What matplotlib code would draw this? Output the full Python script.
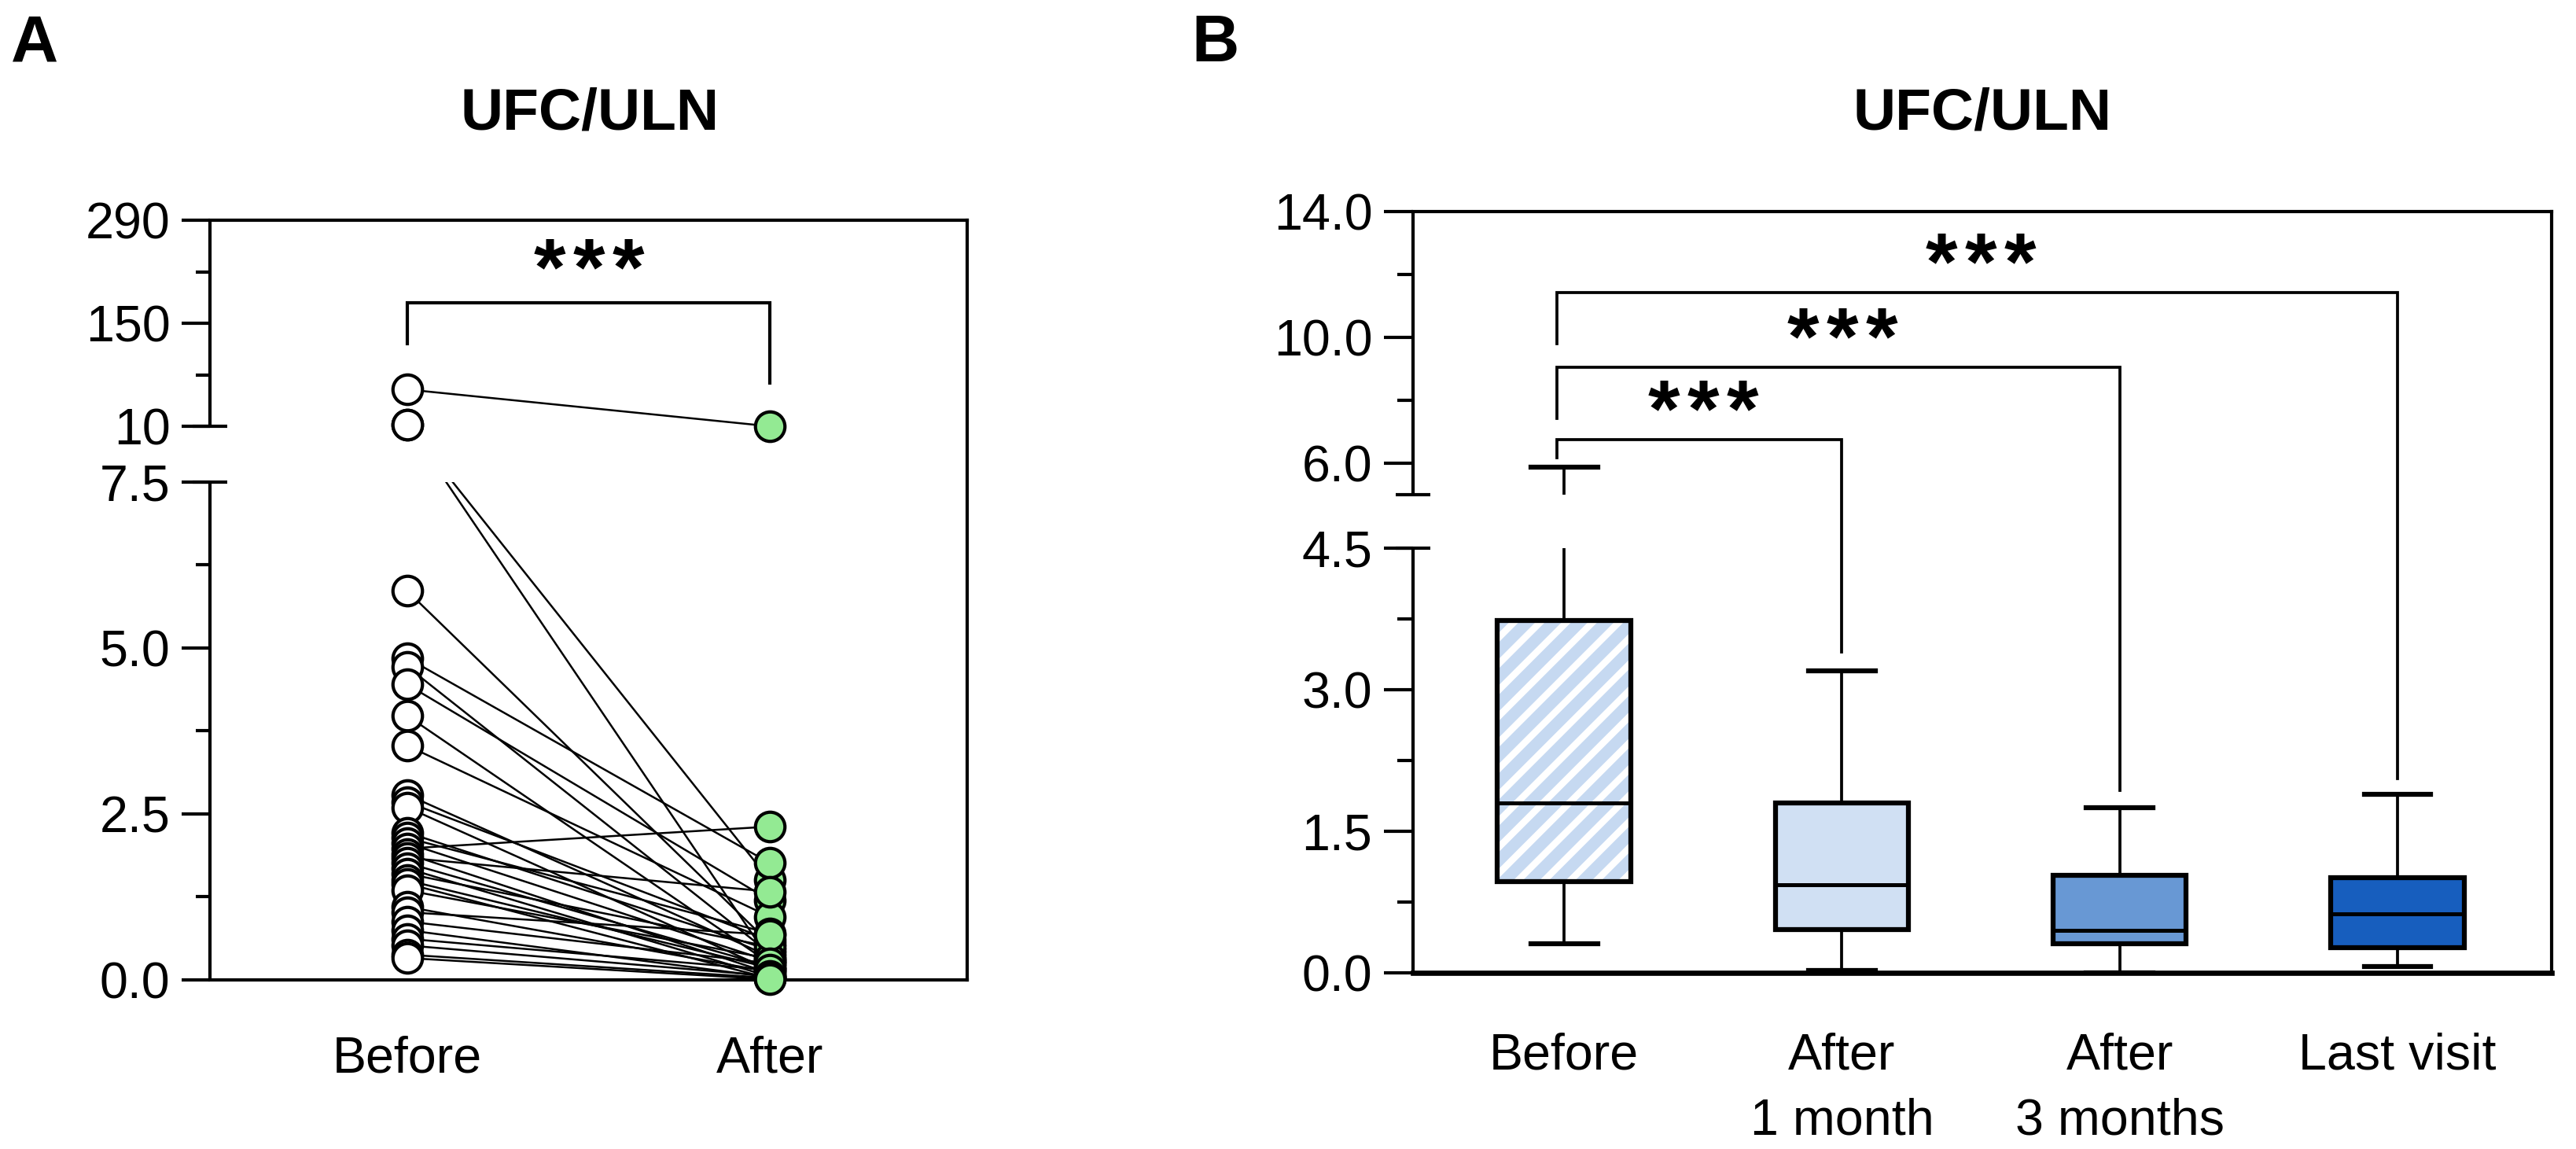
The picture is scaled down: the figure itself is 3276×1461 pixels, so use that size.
import numpy as np
import matplotlib
matplotlib.use("Agg")
import matplotlib.pyplot as plt
from matplotlib.ticker import FixedLocator, FixedFormatter, NullFormatter
from matplotlib.patches import Rectangle

plt.rcParams['font.family'] = ['Liberation Sans', 'DejaVu Sans']
plt.rcParams['hatch.linewidth'] = 3.6

# ---------------- Panel A data (paired UFC/ULN) ----------------
a_groups = ['Before', 'After']
a_before = [60, 12.3, 11.8, 5.86, 4.85, 4.72, 4.45, 3.98, 3.53, 2.79, 2.68, 2.60,
            2.22, 2.14, 2.06, 1.98, 1.90, 1.84, 1.76, 1.68, 1.60, 1.50, 1.45, 1.35,
            1.10, 1.02, 0.88, 0.75, 0.62, 0.52, 0.38, 0.33]
a_after = [10.0, 0.30, 1.50, 0.55, 1.76, 0.40, 1.20, 0.25, 0.95, 0.35, 0.60, 0.15,
           0.45, 0.70, 0.28, 2.31, 0.10, 1.33, 0.20, 0.05, 0.50, 0.18, 0.02, 0.32,
           0.12, 0.68, 0.25, 0.04, 0.15, 0.06, 0.03, 0.01]
a_major = [0, 2.5, 5.0, 7.5, 10, 150, 290]
a_major_labels = ['0.0', '2.5', '5.0', '7.5', '10', '150', '290']
a_minor = [1.25, 3.75, 6.25, 80, 220]
a_break = [7.5, 10]
a_ylim = [0, 290]

# ---------------- Panel B data (box plots) ----------------
b_groups = ['Before', 'After\n1 month', 'After\n3 months', 'Last visit']
b_whislo = [0.31, 0.026, 0.0, 0.066]
b_q1 = [0.97, 0.46, 0.31, 0.27]
b_med = [1.80, 0.935, 0.45, 0.625]
b_q3 = [3.73, 1.80, 1.03, 1.01]
b_whishi = [5.88, 3.20, 1.75, 1.89]
b_colors = ['none', '#D0E0F3', '#6898D4', '#175EBE']
b_major = [0, 1.5, 3.0, 4.5, 6.0, 10.0, 14.0]
b_major_labels = ['0.0', '1.5', '3.0', '4.5', '6.0', '10.0', '14.0']
b_minor = [0.75, 2.25, 3.75, 8.0, 12.0]
b_break = [4.5, 5.0]
b_ylim = [0, 14]

# ---------------- figure ----------------
W, H = 3276, 1461
DPI = 300
fig = plt.figure(figsize=(W / DPI, H / DPI), dpi=DPI)


def fpos(l, r, t, b):
    return [l / W, 1 - b / H, (r - l) / W, (b - t) / H]


axA = fig.add_axes(fpos(267, 1230, 280, 1246))
axB = fig.add_axes(fpos(1797, 3245, 269, 1237))

# broken-axis scales (piecewise linear)
a_xp = [-1000, 0, 7.5, 10, 290, 100000]
a_k = 0.011087
a_fp = [-1000, 0, 7.5, 8.341, 8.341 + 280 * a_k, 8.341 + (100000 - 10) * a_k]
b_xp = [-1000, 0, 4.5, 5.0, 14.0, 10000]
b_fp = [-1000, 0, 4.5, 4.5 + 68 / 120, 4.5 + 68 / 120 + 9 / 3, 4.5 + 68 / 120 + (10000 - 5) / 3]


def fwdA(y):
    return np.interp(y, a_xp, a_fp)


def invA(z):
    return np.interp(z, a_fp, a_xp)


def fwdB(y):
    return np.interp(y, b_xp, b_fp)


def invB(z):
    return np.interp(z, b_fp, b_xp)


def style_axis(ax, major, labels, minor, brk, ylim, cap_frac, bottom_lw, maj_len, min_len):
    ax.set_ylim(*ylim)
    ax.yaxis.set_major_locator(FixedLocator(major))
    ax.yaxis.set_major_formatter(FixedFormatter(labels))
    ax.yaxis.set_minor_locator(FixedLocator(minor))
    ax.yaxis.set_minor_formatter(NullFormatter())
    ax.tick_params(axis='y', which='major', length=maj_len, width=1.0, labelsize=15.5, pad=3.5)
    ax.tick_params(axis='y', which='minor', length=min_len, width=1.0)
    for t in ax.yaxis.get_major_ticks():
        if t.get_loc() in brk:
            t.tick1line.set_visible(False)
    ax.spines['left'].set_visible(False)
    for s in ['top', 'right']:
        ax.spines[s].set_linewidth(1.0)
    ax.spines['bottom'].set_linewidth(bottom_lw)
    tr = ax.get_yaxis_transform()
    ax.plot([0, 0], [ylim[0], brk[0]], transform=tr, color='black', lw=1.0,
            clip_on=False, solid_capstyle='butt', zorder=6)
    ax.plot([0, 0], [brk[1], ylim[1]], transform=tr, color='black', lw=1.0,
            clip_on=False, solid_capstyle='butt', zorder=6)
    for v in brk:
        ax.plot([-cap_frac, cap_frac], [v, v], transform=tr, color='black', lw=1.0,
                clip_on=False, solid_capstyle='butt', zorder=6)
    ax.axhspan(brk[0], brk[1], facecolor='white', edgecolor='none', zorder=2.2)


def stars(ax, x, y, n=3, spacing_pt=12):
    for k in range(n):
        ax.annotate('*', xy=(x, y), xytext=((k - (n - 1) / 2) * spacing_pt, 0),
                    textcoords='offset points', ha='center', va='baseline',
                    fontsize=25, fontweight='bold', zorder=6)


# ---------------- Panel A ----------------
axA.set_yscale('function', functions=(fwdA, invA))
xa = np.arange(len(a_groups))
for b, a in zip(a_before, a_after):
    axA.plot(xa, [b, a], color='black', lw=0.6, zorder=2)
axA.plot(np.full(len(a_before), xa[0]), a_before, 'o', ms=9, mfc='white', mec='black',
         mew=1.0, zorder=4, clip_on=False, linestyle='none')
axA.plot(np.full(len(a_after), xa[1]), a_after, 'o', ms=9, mfc='#93EA93', mec='black',
         mew=1.0, zorder=4, clip_on=False, linestyle='none')
axA.set_xlim(-0.544, 1.544)
axA.set_xticks(xa)
axA.set_xticklabels(a_groups)
axA.tick_params(axis='x', length=0, labelsize=15.5, pad=17)
style_axis(axA, a_major, a_major_labels, a_minor, a_break, a_ylim, 22 / 963, 1.0, 8.6, 4.3)

# significance bracket A
axA.plot([xa[0], xa[0], xa[1], xa[1]], [122, 178, 178, 68.8], color='black', lw=1.0,
         zorder=5, solid_joinstyle='miter')
stars(axA, (xa[0] + xa[1]) / 2, 188)

# ---------------- Panel B ----------------
axB.set_yscale('function', functions=(fwdB, invB))
xb = np.arange(1, len(b_groups) + 1)
stats = [dict(whislo=lo, q1=q1, med=m, q3=q3, whishi=hi, label=g)
         for lo, q1, m, q3, hi, g in zip(b_whislo, b_q1, b_med, b_q3, b_whishi, b_groups)]
bw = 0.48
res = axB.bxp(stats, positions=xb, widths=bw, capwidths=bw / 2, patch_artist=True,
              showfliers=False,
              boxprops=dict(linewidth=1.5, edgecolor='black'),
              whiskerprops=dict(linewidth=0.9, color='black'),
              capprops=dict(linewidth=1.5, color='black'),
              medianprops=dict(linewidth=1.2, color='black', zorder=2.3))
for patch, c in zip(res['boxes'], b_colors):
    patch.set_facecolor(c)
    patch.set_zorder(2.1)
# hatched fill for the "Before" box
axB.add_patch(Rectangle((xb[0] - bw / 2, b_q1[0]), bw, b_q3[0] - b_q1[0],
                        facecolor='white', edgecolor='#C6D9F1', hatch='///', lw=0, zorder=1.9))
axB.set_xlim(0.456, 4.555)
axB.set_xticks(xb)
axB.set_xticklabels(b_groups, linespacing=1.5)
axB.tick_params(axis='x', length=0, labelsize=15.5, pad=18)
style_axis(axB, b_major, b_major_labels, b_minor, b_break, b_ylim, 22 / 1448, 1.6, 8.9, 4.8)

# significance brackets B: (left group, right group, top, left-leg bottom, right-leg bottom)
brackets = [(0, 1, 6.74, 6.18, 3.40), (0, 2, 9.05, 7.43, 1.93), (0, 3, 11.43, 9.80, 2.06)]
for i, j, top, lb, rb in brackets:
    xl = xb[i] - 0.025
    xr = xb[j]
    axB.plot([xl, xl, xr, xr], [lb, top, top, rb], color='black', lw=0.9, zorder=5,
             solid_joinstyle='miter')
    stars(axB, (xb[i] + xb[j]) / 2, top + 0.1)

# titles and panel letters
fig.text(750 / W, 1 - 165 / H, 'UFC/ULN', ha='center', va='baseline', fontsize=18, fontweight='bold')
fig.text(2521 / W, 1 - 165 / H, 'UFC/ULN', ha='center', va='baseline', fontsize=18, fontweight='bold')
fig.text(14 / W, 1 - 78 / H, 'A', ha='left', va='baseline', fontsize=20, fontweight='bold')
fig.text(1515 / W, 1 - 78 / H, 'B', ha='left', va='baseline', fontsize=20, fontweight='bold')

fig.savefig('out.png', dpi=DPI)
